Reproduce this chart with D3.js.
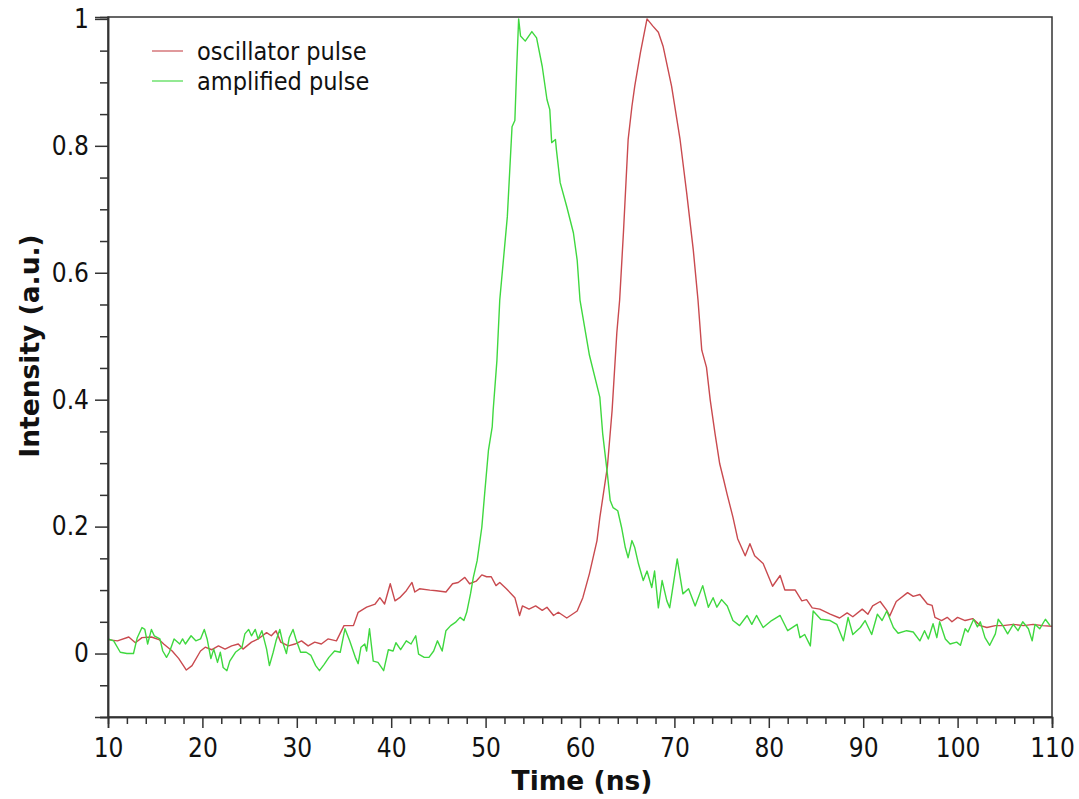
<!DOCTYPE html>
<html>
<head>
<meta charset="utf-8">
<script src="https://cdn.jsdelivr.net/npm/d3@7"></script>
<style>
  html, body { margin: 0; padding: 0; background: #fff; }
  svg { display: block; }
  .tick text { font-family: "DejaVu Sans Condensed", "DejaVu Sans", sans-serif; }
</style>
</head>
<body>
<svg id="chart" width="1079" height="799"></svg>
<script>
// ---- data ----
const seriesNames = ["oscillator pulse", "amplified pulse"];
const seriesColors = ["#c94a4f", "#3fd83f"];

const oscTime = [10,11,12.2,12.9,13.6,14.6,15.4,15.9,16.8,17.5,18.3,18.9,19.8,20.3,21,21.7,22.4,23.1,23.8,24.3,25.2,25.9,26.8,27.3,27.8,28.3,29.1,29.8,30.5,31.2,31.9,32.6,33.3,34.2,35,36,36.5,37.4,38.3,38.8,39.3,39.9,40.4,40.9,41.6,42.2,42.5,43,44.1,44.8,45.8,46.5,47.1,47.8,48.3,49,49.6,50.1,50.6,51.1,51.5,52.2,53.1,53.6,53.9,54.6,55.3,56,56.5,57.2,57.7,58.6,59.7,60.3,61,61.8,62.1,62.9,63.4,63.9,64.2,64.6,65.1,65.5,65.8,66.4,67.1,67.7,68.3,68.8,69.7,70.6,71.3,72,72.5,72.9,73.4,73.8,74.3,74.8,75.2,75.6,76.2,76.7,77.5,78,78.5,79.4,80.4,81.2,81.7,82.8,83.5,84,84.6,85.4,86.5,87.5,88.3,88.9,89.9,90.5,91,91.8,92.5,92.8,93.5,94.7,95.3,96,96.8,97.3,97.6,98.3,98.9,99.4,100,100.8,101.6,102.4,103.1,104,104.8,105.9,107,108,109,110];
const oscValue = [0.022,0.02,0.026,0.017,0.025,0.026,0.022,0.015,0.004,-0.008,-0.026,-0.019,0.004,0.01,0.006,0.012,0.007,0.012,0.015,0.007,0.018,0.023,0.033,0.028,0.036,0.018,0.012,0.015,0.02,0.012,0.018,0.015,0.023,0.02,0.044,0.044,0.065,0.073,0.078,0.088,0.078,0.11,0.083,0.088,0.099,0.112,0.097,0.102,0.1,0.099,0.097,0.11,0.112,0.12,0.11,0.114,0.124,0.121,0.121,0.107,0.112,0.102,0.088,0.06,0.075,0.07,0.075,0.068,0.073,0.06,0.065,0.056,0.067,0.088,0.126,0.178,0.214,0.294,0.383,0.505,0.557,0.663,0.81,0.862,0.894,0.947,1.0,0.989,0.979,0.957,0.894,0.81,0.726,0.636,0.557,0.478,0.451,0.399,0.347,0.299,0.275,0.25,0.215,0.181,0.154,0.173,0.154,0.142,0.106,0.123,0.1,0.1,0.083,0.085,0.072,0.07,0.062,0.056,0.064,0.058,0.07,0.062,0.075,0.082,0.068,0.059,0.082,0.096,0.09,0.093,0.078,0.076,0.057,0.052,0.057,0.05,0.057,0.052,0.055,0.044,0.041,0.044,0.044,0.046,0.044,0.046,0.044,0.043];

const ampTime = [10,10.6,11.3,12,12.7,13.1,13.6,13.9,14.2,14.6,14.9,15.5,15.8,16.2,16.5,17,17.6,17.9,18.2,18.8,19.3,19.8,20.2,20.5,20.9,21.2,21.6,21.9,22.2,22.6,22.9,23.5,24.2,24.5,24.9,25.2,25.6,25.9,26.3,26.8,27.1,27.5,27.8,28.2,28.5,28.9,29.2,29.6,29.9,30.4,31,31.5,32,32.4,32.9,33.4,34,34.6,35.1,35.6,36.2,36.5,36.8,37.2,37.4,37.7,38.1,38.6,39.2,39.7,40.2,40.5,41,41.6,42.1,42.6,42.9,43.5,44,44.5,44.9,45.4,45.8,46.3,46.8,47.3,47.7,48,48.4,48.7,49.1,49.6,49.9,50.3,50.7,50.8,51.2,51.5,52.3,52.8,53.1,53.3,53.5,53.7,54.2,54.9,55.4,56,56.5,56.8,57,57.4,57.5,57.9,58.6,59.3,59.7,60,61,62.1,62.4,62.9,63.2,63.5,64,64.4,64.8,65.1,65.5,65.8,66.2,66.7,67.1,67.6,67.9,68.3,68.7,69.2,69.5,70.3,70.9,71.5,72.2,73,73.6,74.1,74.5,75,75.6,76.2,76.9,77.7,78.2,78.7,79.4,80.3,81.2,82,83,83.3,83.8,84.4,84.7,85.5,86.5,87.2,87.9,88.4,88.9,89.7,90.2,90.9,91.5,92,92.5,93.2,93.7,94.6,95.3,96,96.5,96.9,97.4,97.8,98.1,98.7,99.2,99.9,100.3,100.8,101.1,101.7,102.1,102.4,102.9,103.4,104,104.3,104.8,105.3,105.9,106.4,106.9,107.5,107.9,108.2,108.7,109.3,109.8];
const ampValue = [0.023,0.02,0.002,0,0,0.025,0.041,0.038,0.015,0.038,0.028,0.023,0.004,-0.006,0.002,0.023,0.015,0.023,0.015,0.028,0.02,0.023,0.038,0.023,-0.008,0.007,-0.014,0.002,-0.022,-0.027,-0.012,0.002,0.01,0.031,0.038,0.028,0.038,0.023,0.036,0.007,-0.019,0.002,0.02,0.038,0.018,0,0.025,0.038,0.023,0.002,0.002,-0.003,-0.019,-0.027,-0.017,-0.006,0.004,0.002,0.039,0.02,-0.006,-0.016,0.01,0.015,0.004,0.039,-0.012,-0.014,-0.027,0.006,0.004,0.017,0.006,0.02,0.015,0.028,-0.001,-0.006,-0.006,0.004,0.02,0.004,0.036,0.044,0.049,0.057,0.052,0.065,0.094,0.12,0.146,0.199,0.252,0.32,0.357,0.383,0.462,0.557,0.688,0.83,0.84,0.925,1.0,0.973,0.965,0.98,0.97,0.925,0.873,0.857,0.805,0.81,0.794,0.742,0.704,0.663,0.62,0.557,0.47,0.404,0.347,0.283,0.241,0.23,0.225,0.199,0.167,0.151,0.178,0.167,0.141,0.115,0.13,0.104,0.13,0.072,0.115,0.083,0.072,0.149,0.094,0.102,0.075,0.107,0.073,0.088,0.073,0.085,0.075,0.052,0.044,0.06,0.046,0.06,0.041,0.052,0.06,0.036,0.046,0.025,0.03,0.012,0.067,0.054,0.052,0.046,0.02,0.057,0.03,0.041,0.052,0.03,0.062,0.052,0.067,0.041,0.032,0.036,0.034,0.02,0.036,0.023,0.047,0.025,0.05,0.023,0.015,0.018,0.013,0.039,0.034,0.054,0.042,0.05,0.025,0.013,0.031,0.054,0.044,0.031,0.046,0.036,0.05,0.039,0.02,0.046,0.039,0.054,0.044];

const xMajorTicks = [10,20,30,40,50,60,70,80,90,100,110];
const yMajorTicks = [0,0.2,0.4,0.6,0.8,1];
const xDomain = [10, 110];
const yDomain = [-0.1, 1.003];
const xTitle = "Time (ns)";
const yTitle = "Intensity (a.u.)";

// ---- layout ----
const plot = { left: 108, right: 1052, top: 17, bottom: 717 };
const svg = d3.select("#chart");
const x = d3.scaleLinear().domain(xDomain).range([plot.left, plot.right]);
const y = d3.scaleLinear().domain(yDomain).range([plot.bottom, plot.top]);

const xMinor = d3.range(10, 110.001, 2).filter(v => !xMajorTicks.includes(v));
const yMinor = d3.range(-10, 101, 5).map(v => v / 100).filter(v => !yMajorTicks.some(t => Math.abs(t - v) < 1e-9));

svg.append("defs").append("clipPath").attr("id", "clip")
  .append("rect").attr("x", plot.left).attr("y", plot.top - 1)
  .attr("width", plot.right - plot.left).attr("height", plot.bottom - plot.top + 1);

// series
const series = [
  { name: seriesNames[0], color: seriesColors[0], pts: oscTime.map((t, i) => [t, oscValue[i]]) },
  { name: seriesNames[1], color: seriesColors[1], pts: ampTime.map((t, i) => [t, ampValue[i]]) }
];
const line = d3.line().x(d => x(d[0])).y(d => y(d[1]));
const g = svg.append("g").attr("clip-path", "url(#clip)");
series.forEach(s => {
  g.append("path").datum(s.pts).attr("d", line)
    .attr("fill", "none").attr("stroke", s.color).attr("stroke-width", 1.4)
    .attr("stroke-linejoin", "round");
});

// frame
svg.append("rect").attr("x", plot.left).attr("y", plot.top)
  .attr("width", plot.right - plot.left).attr("height", plot.bottom - plot.top)
  .attr("fill", "none").attr("stroke", "#333").attr("stroke-width", 1.5);

// axes
const fmt = d => (d === 0 ? "0" : d === 1 ? "1" : d3.format(".1f")(d));
const xAxis = svg.append("g").attr("transform", `translate(0,${plot.bottom})`)
  .call(d3.axisBottom(x).tickValues(xMajorTicks).tickSize(11).tickPadding(11).tickFormat(d3.format("d")));
const xAxisMinor = svg.append("g").attr("transform", `translate(0,${plot.bottom})`)
  .call(d3.axisBottom(x).tickValues(xMinor).tickSize(7).tickFormat(""));
const yAxis = svg.append("g").attr("transform", `translate(${plot.left},0)`)
  .call(d3.axisLeft(y).tickValues(yMajorTicks).tickSize(13).tickPadding(6).tickFormat(fmt));
const yAxisMinor = svg.append("g").attr("transform", `translate(${plot.left},0)`)
  .call(d3.axisLeft(y).tickValues(yMinor).tickSize(8).tickFormat(""));

[xAxis, xAxisMinor, yAxis, yAxisMinor].forEach(a => {
  a.select(".domain").attr("stroke", "#333").attr("stroke-width", 1.5);
  a.selectAll(".tick line").attr("stroke", "#333").attr("stroke-width", 1.5);
  a.selectAll(".tick text").attr("fill", "#111").attr("font-size", 26);
});

// axis titles
svg.append("text").attr("x", 582).attr("y", 790)
  .attr("text-anchor", "middle").attr("font-family", "'DejaVu Sans', sans-serif")
  .attr("font-weight", "bold").attr("font-size", 26.5).attr("fill", "#111").text(xTitle);
svg.append("text").attr("transform", `translate(39,346) rotate(-90)`)
  .attr("text-anchor", "middle").attr("font-family", "'DejaVu Sans', sans-serif")
  .attr("font-weight", "bold").attr("font-size", 26.5).attr("fill", "#111").text(yTitle);

// legend
const legend = svg.append("g");
series.forEach((s, i) => {
  const ly = 51 + i * 30;
  legend.append("line").attr("x1", 152).attr("x2", 183).attr("y1", ly).attr("y2", ly)
    .attr("stroke", s.color).attr("stroke-width", 1.4).attr("opacity", 0.8);
  legend.append("text").attr("x", 197).attr("y", ly).attr("dy", "0.35em")
    .attr("font-family", "'DejaVu Sans Condensed', 'DejaVu Sans', sans-serif")
    .attr("font-size", 25).attr("fill", "#111").text(s.name);
});
</script>
</body>
</html>
